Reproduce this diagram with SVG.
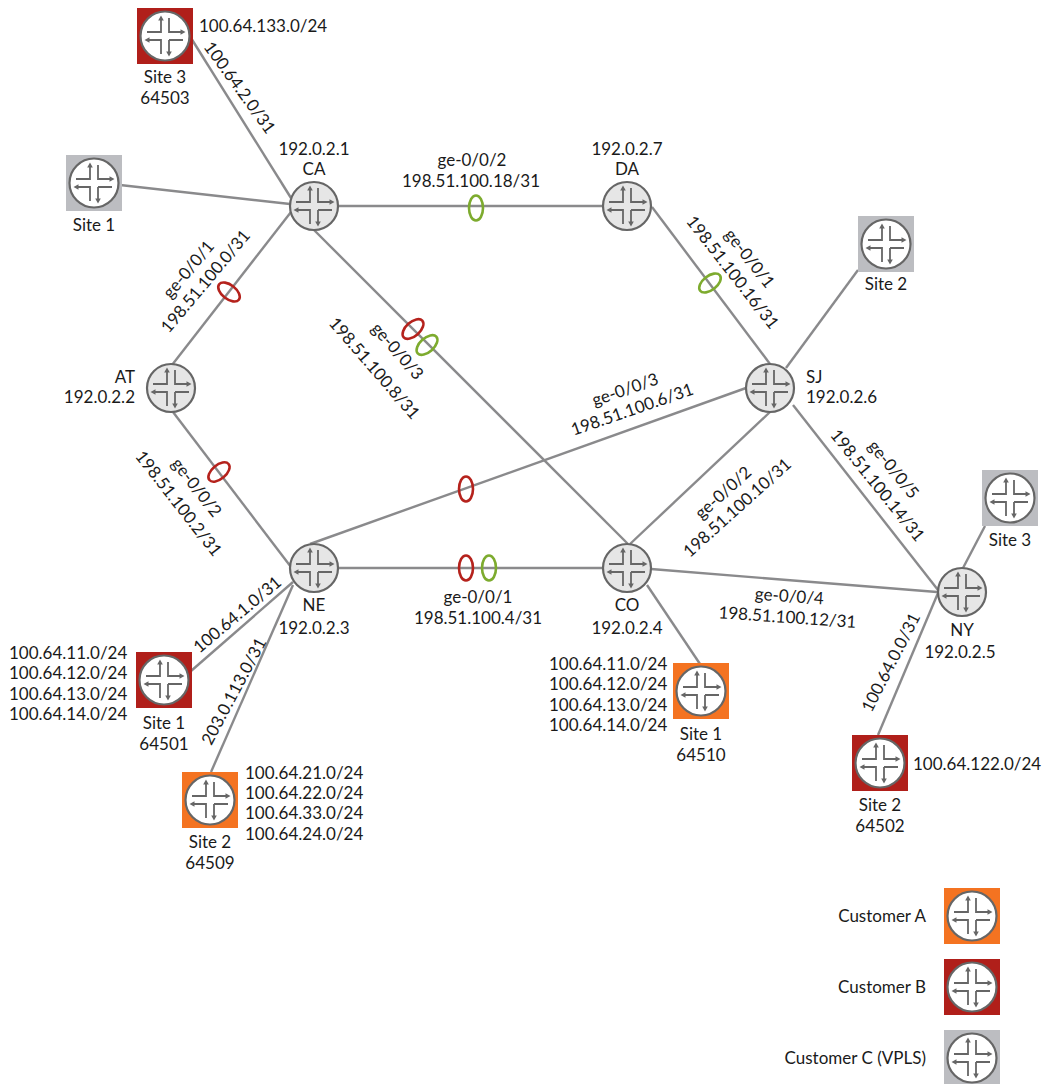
<svg xmlns="http://www.w3.org/2000/svg" width="1045" height="1084" viewBox="0 0 1045 1084">
<style>
text{font-family:Lato,"Liberation Sans",sans-serif;font-size:17px;fill:#1a1a1a}
.m{text-anchor:middle}.e{text-anchor:end}
.c line{stroke:#8a8a8c;stroke-width:2.4}
.r{fill:none;stroke:#b5221c;stroke-width:2.6}
.g{fill:none;stroke:#7dab2e;stroke-width:2.6}
.ic{fill:none;stroke:#666;stroke-width:1.8}
.ah{fill:#666}
.or{fill:#f47321}.rd{fill:#b01f1a}.gy{fill:#bcbdc1}
</style>
<defs>
<g id="cross">
<path class="ic" d="M-4 -16V-4H-18M4 -18V-4H16M-16 4H-4V18M4 4H18M4 4V16"/>
<path class="ah" d="M-4 -20.500l-2.800 5h5.600zM20.500 -4l-5 -2.800v5.600zM-20.500 4l5 -2.800v5.600zM4 20.500l-2.800 -5h5.600z"/>
</g>
<g id="core"><circle r="24" fill="#e6e6e6" stroke="#666" stroke-width="2.200"/><use href="#cross"/></g>
<g id="cpe"><circle r="24.500" fill="#fff" stroke="#666" stroke-width="2.200"/><use href="#cross"/></g>
</defs>
<g id="connectors" class="c">
<line x1="191" y1="38" x2="291" y2="198"/>
<line x1="120" y1="185" x2="290" y2="204"/>
<line x1="338" y1="206" x2="603" y2="206"/>
<line x1="291" y1="212" x2="172" y2="365"/>
<line x1="314" y1="230" x2="628" y2="544"/>
<line x1="652" y1="207" x2="770" y2="364"/>
<line x1="858" y1="270" x2="786" y2="368"/>
<line x1="173" y1="412" x2="291" y2="567"/>
<line x1="310" y1="544" x2="746" y2="388"/>
<line x1="338" y1="568" x2="603" y2="568"/>
<line x1="630" y1="544" x2="770" y2="412"/>
<line x1="793" y1="405" x2="938" y2="590"/>
<line x1="651" y1="569" x2="937" y2="592"/>
<line x1="985" y1="526" x2="963" y2="568"/>
<line x1="938" y1="593" x2="878" y2="735"/>
<line x1="293" y1="582" x2="191" y2="671"/>
<line x1="293" y1="585" x2="211" y2="772"/>
<line x1="647" y1="585" x2="700" y2="664"/>
</g>
<g id="lag-rings">
<ellipse class="g" cx="476" cy="208" rx="7" ry="12.500"/>
<ellipse class="r" cx="229" cy="292" rx="7" ry="12.500" transform="rotate(-52 229 292)"/>
<ellipse class="r" cx="413" cy="329" rx="7" ry="12.500" transform="rotate(48 413 329)"/>
<ellipse class="g" cx="427" cy="345" rx="7" ry="12.500" transform="rotate(48 427 345)"/>
<ellipse class="g" cx="710" cy="283" rx="7" ry="12.500" transform="rotate(52 710 283)"/>
<ellipse class="r" cx="219" cy="472" rx="7" ry="12.500" transform="rotate(50 219 472)"/>
<ellipse class="r" cx="466" cy="489" rx="7" ry="12.500"/>
<ellipse class="r" cx="466" cy="568" rx="7" ry="12.500"/>
<ellipse class="g" cx="489" cy="568" rx="7" ry="12.500"/>
</g>
<g id="CA"><use href="#core" x="314" y="206"/><text class="m" x="314" y="155">192.0.2.1</text><text class="m" x="314" y="175">CA</text></g>
<g id="DA"><use href="#core" x="627" y="206"/><text class="m" x="627" y="155">192.0.2.7</text><text class="m" x="627" y="175">DA</text></g>
<g id="AT"><use href="#core" x="171" y="388"/><text class="e" x="135" y="383">AT</text><text class="e" x="135" y="403">192.0.2.2</text></g>
<g id="NE"><use href="#core" x="314" y="568"/><text class="m" x="314" y="611">NE</text><text class="m" x="314" y="634">192.0.2.3</text></g>
<g id="CO"><use href="#core" x="627" y="568"/><text class="m" x="627" y="611">CO</text><text class="m" x="627" y="634">192.0.2.4</text></g>
<g id="SJ"><use href="#core" x="770" y="388"/><text x="806" y="383">SJ</text><text x="806" y="403">192.0.2.6</text></g>
<g id="NY"><use href="#core" x="962" y="592"/><text class="m" x="962" y="636">NY</text><text class="m" x="960" y="658">192.0.2.5</text></g>
<g id="site3-b"><rect class="rd" x="137" y="8" width="56" height="56"/><use href="#cpe" x="165" y="36"/><text x="199" y="32">100.64.133.0/24</text><text class="m" x="165" y="83">Site 3</text><text class="m" x="165" y="104">64503</text></g>
<g id="site1-c"><rect class="gy" x="66" y="155" width="56" height="56"/><use href="#cpe" x="94" y="183"/><text class="m" x="94" y="231">Site 1</text></g>
<g id="site2-c"><rect class="gy" x="858" y="216" width="56" height="56"/><use href="#cpe" x="886" y="244"/><text class="m" x="886" y="290">Site 2</text></g>
<g id="site3-c"><rect class="gy" x="982" y="470" width="56" height="56"/><use href="#cpe" x="1010" y="498"/><text class="m" x="1010" y="546">Site 3</text></g>
<g id="site1-b"><rect class="rd" x="136" y="652" width="56" height="56"/><use href="#cpe" x="164" y="680"/><text class="m" x="164" y="729">Site 1</text><text class="m" x="164" y="750">64501</text>
<text x="9" y="659">100.64.11.0/24</text><text x="9" y="679">100.64.12.0/24</text><text x="9" y="700">100.64.13.0/24</text><text x="9" y="720">100.64.14.0/24</text></g>
<g id="site2-a"><rect class="or" x="182" y="772" width="56" height="56"/><use href="#cpe" x="210" y="800"/><text class="m" x="210" y="848">Site 2</text><text class="m" x="210" y="869">64509</text>
<text x="245" y="779">100.64.21.0/24</text><text x="245" y="799">100.64.22.0/24</text><text x="245" y="819">100.64.33.0/24</text><text x="245" y="840">100.64.24.0/24</text></g>
<g id="site1-a"><rect class="or" x="673" y="663" width="56" height="56"/><use href="#cpe" x="701" y="691"/><text class="m" x="701" y="740">Site 1</text><text class="m" x="701" y="761">64510</text>
<text x="549" y="670">100.64.11.0/24</text><text x="549" y="690">100.64.12.0/24</text><text x="549" y="711">100.64.13.0/24</text><text x="549" y="731">100.64.14.0/24</text></g>
<g id="site2-b"><rect class="rd" x="852" y="735" width="56" height="56"/><use href="#cpe" x="880" y="763"/><text x="913" y="770">100.64.122.0/24</text><text class="m" x="880" y="811">Site 2</text><text class="m" x="880" y="832">64502</text></g>
<g id="link-labels">
<text class="m" transform="translate(235 91) rotate(54)">100.64.2.0/31</text>
<text class="m" x="472" y="166">ge-0/0/2</text><text class="m" x="471" y="187">198.51.100.18/31</text>
<text class="m" transform="translate(193 273) rotate(-50)">ge-0/0/1</text>
<text class="m" transform="translate(210 285) rotate(-50)">198.51.100.0/31</text>
<text class="m" transform="translate(393 355) rotate(49)">ge-0/0/3</text>
<text class="m" transform="translate(370 372) rotate(49)">198.51.100.8/31</text>
<text class="m" transform="translate(745 262) rotate(52)">ge-0/0/1</text>
<text class="m" transform="translate(728 276) rotate(52)">198.51.100.16/31</text>
<text class="m" transform="translate(192 491) rotate(52)">ge-0/0/2</text>
<text class="m" transform="translate(174 507) rotate(52)">198.51.100.2/31</text>
<text class="m" transform="translate(627 395) rotate(-19)">ge-0/0/3</text>
<text class="m" transform="translate(634 415) rotate(-19)">198.51.100.6/31</text>
<text class="m" transform="translate(727 497) rotate(-42)">ge-0/0/2</text>
<text class="m" transform="translate(741 512) rotate(-42)">198.51.100.10/31</text>
<text class="m" transform="translate(889 473) rotate(51)">ge-0/0/5</text>
<text class="m" transform="translate(873 489) rotate(51)">198.51.100.14/31</text>
<text class="m" x="478" y="603">ge-0/0/1</text><text class="m" x="478" y="624">198.51.100.4/31</text>
<text class="m" transform="translate(789 602) rotate(4)">ge-0/0/4</text>
<text class="m" transform="translate(787 623) rotate(4)">198.51.100.12/31</text>
<text class="m" transform="translate(241 619) rotate(-40)">100.64.1.0/31</text>
<text class="m" transform="translate(239 694) rotate(-62)">203.0.113.0/31</text>
<text class="m" transform="translate(896 665) rotate(-63)">100.64.0.0/31</text>
</g>
<g id="legend-a"><rect class="or" x="944" y="888" width="56" height="56"/><use href="#cpe" x="972" y="916"/><text class="e" x="926" y="922">Customer A</text></g>
<g id="legend-b"><rect class="rd" x="944" y="959" width="56" height="56"/><use href="#cpe" x="972" y="987"/><text class="e" x="926" y="993">Customer B</text></g>
<g id="legend-c"><rect class="gy" x="944" y="1030" width="56" height="56"/><use href="#cpe" x="972" y="1058"/><text class="e" x="926" y="1064">Customer C (VPLS)</text></g>
</svg>
